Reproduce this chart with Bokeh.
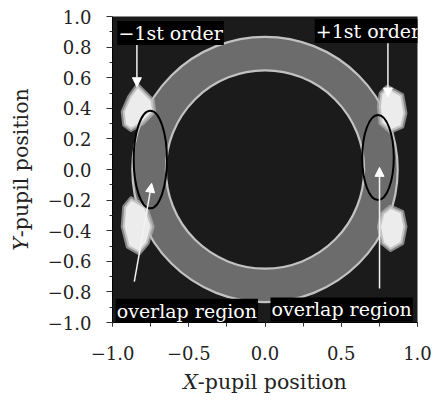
from bokeh.plotting import figure
from bokeh.models import Label, Arrow, NormalHead, FixedTicker, Range1d, ColumnDataSource
from bokeh.embed import file_html
from bokeh.resources import INLINE

# ---------------- data ----------------
x_ticks = [-1.0, -0.5, 0.0, 0.5, 1.0]
x_tick_labels = ["\u22121.0", "\u22120.5", "0.0", "0.5", "1.0"]
x_minor = [-1.0, -0.75, -0.5, -0.25, 0.0, 0.25, 0.5, 0.75, 1.0]
y_ticks = [-1.0, -0.8, -0.6, -0.4, -0.2, 0.0, 0.2, 0.4, 0.6, 0.8, 1.0]
y_tick_labels = ["\u22121.0", "\u22120.8", "\u22120.6", "\u22120.4", "\u22120.2",
                 "0.0", "0.2", "0.4", "0.6", "0.8", "1.0"]
y_minor = [-0.9, -0.7, -0.5, -0.3, -0.1, 0.1, 0.3, 0.5, 0.7, 0.9]
x_title = "\U0001D44B-pupil position"
y_title = "\U0001D44C-pupil position"

# annular pupil (0th order)
ring_cx = [0.0]
ring_cy = [0.0]
ring_inner = 0.65
ring_outer = 0.87

# bright +-1st order spots
blob_xs = [
    [-0.835, -0.737, -0.726, -0.802, -0.879, -0.923, -0.933, -0.890],
    [-0.878, -0.781, -0.737, -0.770, -0.825, -0.900, -0.933, -0.923],
    [0.802, 0.900, 0.921, 0.900, 0.823, 0.758, 0.747, 0.758],
    [0.823, 0.900, 0.921, 0.900, 0.823, 0.769, 0.747, 0.769],
]
blob_ys = [
    [0.552, 0.454, 0.378, 0.302, 0.258, 0.291, 0.378, 0.476],
    [-0.188, -0.243, -0.374, -0.482, -0.547, -0.505, -0.374, -0.243],
    [0.541, 0.487, 0.367, 0.280, 0.247, 0.302, 0.410, 0.498],
    [-0.243, -0.276, -0.374, -0.482, -0.526, -0.482, -0.374, -0.286],
]

# overlap ellipses
ell_x = [-0.752, 0.741]
ell_y = [0.065, 0.078]
ell_w = [0.218, 0.207]
ell_h = [0.638, 0.556]

# arrows
arr_x0 = [-0.840, 0.806, -0.857, 0.751]
arr_y0 = [0.825, 0.825, -0.733, -0.777]
arr_x1 = [-0.840, 0.806, -0.743, 0.751]
arr_y1 = [0.541, 0.474, -0.090, 0.014]

# annotation texts
ann_text = ["\u22121st order", "+1st order", "overlap region", "overlap region"]
ann_x = [-0.968, 0.326, -0.979, 0.036]
ann_y = [0.892, 0.906, -0.924, -0.915]

SERIF = "DejaVu Serif"
TXT = "#222222"

p = figure(width=434, height=399, x_range=Range1d(-1, 1), y_range=Range1d(-1, 1),
           output_backend="svg", toolbar_location=None,
           min_border_left=112, min_border_right=17, min_border_top=16, min_border_bottom=77)
p.grid.visible = False
p.background_fill_color = "#1b1b1b"
p.border_fill_color = "white"
p.outline_line_color = None

# ring
p.annulus(x=ring_cx, y=ring_cy, inner_radius=ring_inner, outer_radius=ring_outer,
          fill_color="#6c6c6c", line_color=None)
p.circle(x=ring_cx * 2, y=ring_cy * 2, radius=[ring_outer, ring_inner],
         fill_color=None, line_color="#c2c2c2", line_width=2.2)

# blobs
p.patches(xs=blob_xs, ys=blob_ys, fill_color="#ececec", line_color="#b4b4b4",
          line_width=4, line_alpha=0.7, line_join="round")

# ellipses
p.ellipse(x=ell_x, y=ell_y, width=ell_w, height=ell_h, fill_color=None,
          line_color="black", line_width=2)

# arrows
asrc = ColumnDataSource(dict(x0=arr_x0, y0=arr_y0, x1=arr_x1, y1=arr_y1))
p.add_layout(Arrow(end=NormalHead(size=9, fill_color="white", line_color="white", line_width=1),
                   x_start="x0", y_start="y0", x_end="x1", y_end="y1", source=asrc,
                   line_color="#f2f2f2", line_width=1.5))

for t, x, y in zip(ann_text, ann_x, ann_y):
    p.add_layout(Label(x=x, y=y, text=t, text_color="white", text_font=SERIF,
                       text_font_size="19px", text_baseline="alphabetic", text_align="left",
                       background_fill_color="black", padding=1))

# axes
for ax in (p.xaxis, p.yaxis):
    ax.axis_line_color = "black"
    ax.major_tick_line_color = "#333333"
    ax.minor_tick_line_color = "#333333"
    ax.major_label_text_font = SERIF
    ax.major_label_text_font_size = "18px"
    ax.major_label_text_color = TXT
    ax.major_tick_in = 0
    ax.minor_tick_in = 0
    ax.axis_label_text_font = SERIF
    ax.axis_label_text_font_size = "20.5px"
    ax.axis_label_text_font_style = "normal"
    ax.axis_label_text_color = TXT

p.xaxis.ticker = FixedTicker(ticks=x_ticks, minor_ticks=x_minor)
p.xaxis.major_label_overrides = dict(zip(x_ticks, x_tick_labels))
p.xaxis.major_tick_out = 4
p.xaxis.minor_tick_out = 4
p.xaxis.major_label_standoff = 19
p.xaxis.axis_label = x_title
p.xaxis.axis_label_standoff = 7

p.yaxis.ticker = FixedTicker(ticks=y_ticks, minor_ticks=y_minor)
p.yaxis.major_label_overrides = dict(zip(y_ticks, y_tick_labels))
p.yaxis.major_tick_out = 6
p.yaxis.minor_tick_out = 3
p.yaxis.major_label_standoff = 15
p.yaxis.axis_label = y_title
p.yaxis.axis_label_standoff = 12

open("out.html", "w").write(file_html(p, INLINE))
